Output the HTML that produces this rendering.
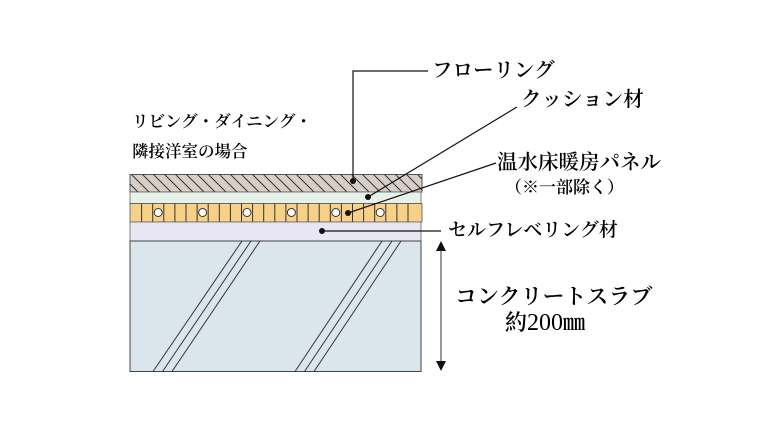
<!DOCTYPE html>
<html><head><meta charset="utf-8"><style>
html,body{margin:0;padding:0;background:#fff;}
svg{display:block}
text{font-family:"Liberation Serif","Noto Serif CJK SC",serif;fill:#000;font-weight:600;}
</style></head><body>
<svg width="760" height="440" viewBox="0 0 760 440" xmlns="http://www.w3.org/2000/svg">
<defs>
<clipPath id="hc"><rect x="130" y="174.5" width="292" height="17.5"/></clipPath>
</defs>
<rect x="130" y="174.5" width="292" height="17.5" fill="#d8cec8" stroke="#555" stroke-width="1"/>
<g clip-path="url(#hc)" stroke="#333" stroke-width="1">
<path d="M120,174 l18,18 M131,174 l18,18 M142,174 l18,18 M153,174 l18,18 M164,174 l18,18 M175,174 l18,18 M186,174 l18,18 M197,174 l18,18 M208,174 l18,18 M219,174 l18,18 M230,174 l18,18 M241,174 l18,18 M252,174 l18,18 M263,174 l18,18 M274,174 l18,18 M285,174 l18,18 M296,174 l18,18 M307,174 l18,18 M318,174 l18,18 M329,174 l18,18 M340,174 l18,18 M351,174 l18,18 M362,174 l18,18 M373,174 l18,18 M384,174 l18,18 M395,174 l18,18 M406,174 l18,18 M417,174 l18,18"/>
</g>
<rect x="130" y="192" width="291" height="11.5" fill="#e6f1ea" stroke="#666" stroke-width="0.8"/>
<rect x="130" y="203.5" width="292" height="18.5" fill="#f8d189" stroke="#555" stroke-width="0.8"/>
<g stroke="#333" stroke-width="1">
<path d="M141.6,203.5v18.5 M152.7,203.5v18.5 M163.8,203.5v18.5 M174.9,203.5v18.5 M186,203.5v18.5 M197.1,203.5v18.5 M208.2,203.5v18.5 M219.3,203.5v18.5 M230.4,203.5v18.5 M241.5,203.5v18.5 M252.6,203.5v18.5 M263.7,203.5v18.5 M274.8,203.5v18.5 M285.9,203.5v18.5 M297,203.5v18.5 M308.1,203.5v18.5 M319.2,203.5v18.5 M330.3,203.5v18.5 M341.4,203.5v18.5 M352.5,203.5v18.5 M363.6,203.5v18.5 M374.7,203.5v18.5 M385.8,203.5v18.5 M396.9,203.5v18.5 M408,203.5v18.5"/>
</g>
<g fill="#fff" stroke="#333" stroke-width="1">
<circle cx="158.2" cy="212.5" r="4"/><circle cx="202.6" cy="212.5" r="4"/><circle cx="247" cy="212.5" r="4"/><circle cx="291.4" cy="212.5" r="4"/><circle cx="335.8" cy="212.5" r="4"/><circle cx="380.2" cy="212.5" r="4"/>
</g>
<rect x="130" y="222" width="291" height="19" fill="#e8e6f2" stroke="#666" stroke-width="0.8"/>
<rect x="130" y="241" width="291" height="130.5" fill="#dbe5ec" stroke="#444" stroke-width="1"/>
<g stroke="#333" stroke-width="1">
<path d="M153,371.5L242,241 M162.5,371.5L251,241 M172,371.5L260,241 M295,371.5L382,241 M304.5,371.5L392,241 M314,371.5L401,241"/>
</g>
<g stroke="#111" stroke-width="1.2" fill="none">
<path d="M353,181V71H428"/>
<path d="M368,197L517,107"/>
<path d="M348,213L496,163"/>
<path d="M322,231H441"/>
</g>
<g fill="#111">
<circle cx="353" cy="181" r="3"/><circle cx="368" cy="197" r="3"/><circle cx="348" cy="213" r="3"/><circle cx="322" cy="231" r="3"/>
</g>
<path d="M441,250V362" stroke="#333" stroke-width="1"/>
<path d="M436,251L441,241L446,251Z M436,361L441,371L446,361Z" fill="#111"/>
<text x="432" y="77" font-size="20.5">フローリング</text>
<text x="521" y="106" font-size="20.5">クッション材</text>
<text x="132" y="127" font-size="16.5">リビング・ダイニング・</text>
<text x="132" y="157" font-size="16.5">隣接洋室の場合</text>
<text x="497" y="169" font-size="20.5">温水床暖房パネル</text>
<text x="505" y="193" font-size="17">（※一部除く）</text>
<text x="448" y="236" font-size="19">セルフレベリング材</text>
<text x="455" y="304" font-size="22">コンクリートスラブ</text>
<text x="505" y="330" font-size="22">約<tspan font-weight="400" font-size="24">200</tspan>㎜</text>
</svg>
</body></html>
